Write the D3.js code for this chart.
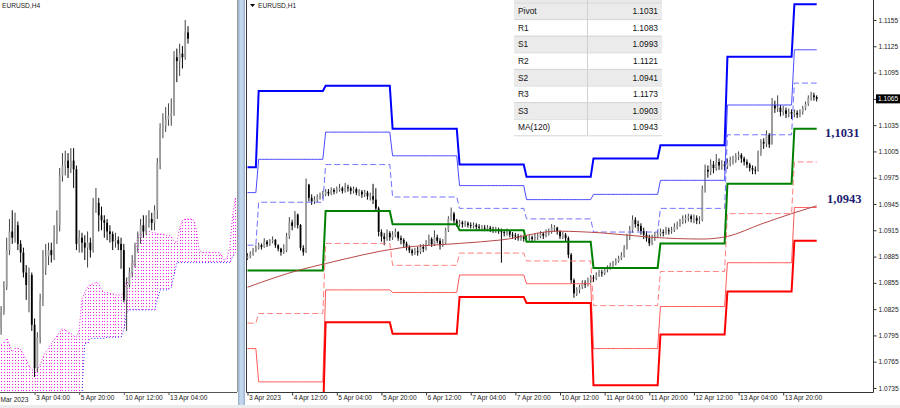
<!DOCTYPE html>
<html>
<head>
<meta charset="utf-8">
<title>EURUSD H4 / H1</title>
<script src="https://cdn.jsdelivr.net/npm/d3@7/dist/d3.min.js"></script>
<style>
  body { margin: 0; background: #fff; }
  svg  { display: block; font-family: "Liberation Sans", Arial, sans-serif; }
</style>
</head>
<body>
<svg id="chart" width="900" height="408"></svg>
<script>

// candle and level values are pips above 1.0700
var BASE = 1.07;
function px(v) { return BASE + v / 10000; }

// ---------- H1 chart (right) ----------
var h1FirstOpen = 183;
var h1Close = [185,188,192,195,198,196,202,199,203,204, 198,194,190,192,208,224,220,233,221,195,
  190,267,252,248,250,253,254,256,259,257, 261,259,261,263,260,264,263,260,262,258,
  259,256,258,254,254,250,240,213,208,205, 212,207,210,213,206,204,200,196,192,189,
  191,190,196,194,201,205,199,207,203,198, 200,215,228,234,226,222,224,222,223,221,
  220,221,219,218,218,217,218,216,215,216, 214,213,212,214,210,209,208,206,207,205,
  206,207,205,208,208,211,209,213,213,218, 218,214,208,210,206,187,158,143,147,150,
  155,153,158,161,160,164,167,166,170,172, 175,177,180,183,186,195,208,215,227,222,
  220,214,210,206,200,206,208,211,213,212, 215,214,215,219,221,224,227,229,231,228,
  229,226,227,262,284,282,290,286,293,289, 290,288,292,295,295,299,301,297,293,290,
  286,284,283,303,316,314,324,313,358,354, 355,350,352,348,350,348,349,347,350,354,
  359,366,369,367,365];
var h1High = [189,191,195,198,201,200,206,204,205,208, 205,199,195,199,212,230,227,237,234,222,
  198,274,268,256,254,256,258,260,262,262, 264,263,265,268,265,269,267,265,265,264,
  262,261,261,260,258,268,263,242,216,212, 216,214,214,217,214,209,206,202,198,194,
  195,196,199,199,204,210,207,215,210,206, 205,218,231,241,236,228,227,226,226,225,
  224,224,223,222,221,221,221,220,219,219, 218,217,216,217,215,213,212,211,210,209,
  209,210,209,211,212,214,213,216,217,222, 221,219,215,213,212,208,189,160,150,153,
  158,158,161,164,164,167,170,170,173,175, 178,180,183,186,190,198,211,220,232,230,
  226,223,218,214,210,210,213,215,217,216, 219,218,219,223,225,228,232,233,234,233,
  233,232,231,266,290,289,296,294,302,297, 295,294,297,299,300,303,305,303,299,296,
  292,289,288,306,319,320,329,326,366,363, 369,358,357,355,354,353,353,352,353,357,
  362,369,373,372,369];
var h1Low = [181,183,186,190,193,193,195,196,197,200, 195,191,186,188,190,205,215,218,217,192,
  186,189,248,244,245,247,250,251,254,254, 255,256,257,259,257,258,259,256,257,255,
  254,252,253,250,249,245,236,208,202,198, 203,203,204,207,203,199,196,192,189,186,
  187,186,188,190,192,198,196,197,200,193, 196,199,213,226,223,219,219,218,219,218,
  217,217,216,215,214,214,214,213,212,212, 211,178,208,209,207,205,204,203,203,202,
  202,203,201,203,204,206,205,207,209,211, 213,210,205,205,202,183,154,138,140,143,
  148,149,151,155,156,158,162,162,164,167, 170,172,175,178,181,184,193,204,212,218,
  214,210,205,202,197,198,203,206,208,208, 210,210,211,213,216,219,222,223,225,224,
  223,222,222,225,258,275,278,280,283,284, 284,283,285,288,290,292,295,292,289,286,
  282,279,279,282,300,308,310,309,313,349, 350,345,346,343,344,342,344,343,344,347,
  352,357,363,363,362];

var timeTicksH1  = [0,16,32,48,64,80,96,112,128,144,160,176,192];
var timeLabelsH1 = ["3 Apr 2023","4 Apr 12:00","5 Apr 04:00","5 Apr 20:00","6 Apr 12:00",
  "7 Apr 04:00","7 Apr 20:00","10 Apr 12:00","11 Apr 04:00","11 Apr 20:00",
  "12 Apr 12:00","13 Apr 04:00","13 Apr 20:00"];
var priceTicks = [1.0735,1.0765,1.0795,1.0825,1.0855,1.0885,1.0915,1.0945,
  1.0975,1.1005,1.1035,1.1065,1.1095,1.1125,1.1155];

// daily pivot levels (first H1 bar of each day, then one value per day)
var dayStart = [0,4,28,52,76,100,124,148,172,196];
var levR3    = [287,374,380,331,290,276,297,312,413,473];
var levR2    = [258,296,327,300,266,250,256,272,358,421];
var levR1    = [198,247,290,253,240,228,213,240,324,383];
var levP     = [169,169,237,222,215,202,172,200,268,331];
var levS1    = [109,120,200,175,189,180,129,168,234,293];
var levS2    = [ 80, 42,147,144,164,154, 80,128,178,241];
var levS3    = [ 20, -7,110, 97,139,132, 38, 96,145,203];

// MA(120) read at a few bars
var maIdx = [0,19,28,55,76,91,111,127,145,163,172,184,195,204];
var maVal = [150,170,177,195,200,204,214,212,207,205,208,222,234,243];

var tableNames = ["Pivot","R1","S1","R2","S2","R3","S3","MA(120)"];

// ---------- H4 chart (left) ----------
var h4FirstOpen = 128;
var h4Close = [140,160,190,205,200,210,195,188,172,162, 170,130,95,120,150,175,185,190,186,200,
  210,250,258,262,256,262,255,195,200,196, 192,196,190,225,228,218,214,212,205,203,
  197,198,195,190,150,162,172,180,192,200, 210,205,212,215,212,222,260,288,290,295,
  298,300,345,342,348,345,365,360];
var h4High = [145,165,200,215,222,220,213,198,192,178, 176,172,135,124,155,190,195,196,196,210,
  222,256,268,270,268,272,272,258,206,204, 202,205,200,232,240,232,225,218,215,210,
  205,204,201,200,195,168,176,186,196,205, 215,218,218,222,220,226,264,292,300,305,
  308,312,350,352,356,354,375,370];
var h4Low = [122,138,158,186,195,196,190,180,168,150, 140,125,88,92,115,145,170,178,180,182,
  195,205,245,250,248,252,240,190,188,188, 182,176,184,188,220,205,206,200,198,196,
  190,192,190,175,148,125,160,168,176,188, 195,200,202,208,206,206,215,255,280,285,
  290,290,298,325,330,336,343,356];

// Ichimoku cloud edges (bars 0..84, last 17 projected ahead)
var spanA = [114,116,119,114,108,111,111,110,106,102, 97,94,92,94,98,104,108,111,115,118,
  121,124,127,126,124,123,121,120,126,151, 156,160,162,163,164,163,158,156,156,155,
  155,154,154,154,156,166,169,173,186,201, 204,205,205,205,204,204,203,203,203,202,
  202,201,197,196,208,214,215,215,215,214, 206,190,188,188,188,188,188,188,188,186,
  182,184,192,218,232];
var spanB = [70,70,70,70,70,70,70,70,70,70, 70,70,70,70,70,70,70,70,70,70,
  70,70,70,70,70,70,70,70,70,77, 115,115,119,119,119,119,119,119,120,120,
  120,120,120,120,126,140,142,142,142,142, 142,142,142,142,142,142,150,158,158,158,
  158,160,170,180,180,180,180,180,180,180, 180,180,180,180,180,180,180,180,180,180,
  180,180,180,185,188];

var timeTicksH4  = [12,28,44,60];
var timeLabelsH4 = ["3 Apr 04:00","5 Apr 20:00","10 Apr 12:00","13 Apr 04:00"];
var firstLabelH4 = "Mar 2023";


var svg = d3.select("#chart");
var defs = svg.append("defs");
defs.append("clipPath").attr("id", "clipL")
  .append("rect").attr("x", 0).attr("y", 0).attr("width", 237).attr("height", 392);
defs.append("clipPath").attr("id", "clipR")
  .append("rect").attr("x", 247).attr("y", 0).attr("width", 626).attr("height", 392);

function drawCandles(g, x, y, firstOpen, close, high, low) {
  close.forEach(function (c, i) {
    var o = i ? close[i - 1] : firstOpen;
    var up = c >= o;
    var cx = x(i);
    g.append("line")
      .attr("x1", cx).attr("x2", cx)
      .attr("y1", y(px(high[i]))).attr("y2", y(px(low[i])))
      .attr("stroke", up ? "#444" : "#000").attr("stroke-width", 1);
    var yt = y(px(Math.max(o, c))), yb = y(px(Math.min(o, c)));
    g.append("rect")
      .attr("x", cx - 0.9).attr("width", 1.8)
      .attr("y", yt).attr("height", Math.max(1, yb - yt))
      .attr("fill", up ? "#9c9c9c" : "#000");
  });
}

// ================= left panel =================
var xL = d3.scaleLinear().domain([0, 67]).range([1.1, 188.0]);
var yL = d3.scaleLinear().domain([1.0788, 1.1075]).range([377, 20]);

var gL = svg.append("g").attr("clip-path", "url(#clipL)");

// cloud: dotted vertical strokes per bar
spanA.forEach(function (a, i) {
  var x = Math.round(xL(i)) + 0.5;
  var y1 = yL(px(a)), y2 = Math.min(395, yL(px(spanB[i])));
  gL.append("line")
    .attr("x1", x).attr("x2", x).attr("y1", y1).attr("y2", y2)
    .attr("stroke", "#f020f0").attr("stroke-width", 1)
    .attr("stroke-dasharray", "1,2")
    .attr("stroke-dashoffset", y1 % 3);
});
var spanLine = d3.line().x(function (d, i) { return xL(i); }).y(function (d) { return yL(px(d)); });
gL.append("path").attr("d", spanLine(spanA)).attr("fill", "none")
  .attr("stroke", "#f020f0").attr("stroke-width", 1).attr("stroke-dasharray", "1,2");
gL.append("path").attr("d", spanLine(spanB)).attr("fill", "none")
  .attr("stroke", "#3a3aff").attr("stroke-width", 1).attr("stroke-dasharray", "1,2");

drawCandles(gL, xL, yL, h4FirstOpen, h4Close, h4High, h4Low);

// left frame + time axis
svg.append("line").attr("x1", 0).attr("x2", 237).attr("y1", 392.5).attr("y2", 392.5)
  .attr("stroke", "#555");
svg.append("line").attr("x1", 237.5).attr("x2", 237.5).attr("y1", 0).attr("y2", 392)
  .attr("stroke", "#999");
var axL = svg.append("g").attr("transform", "translate(0,392)")
  .call(d3.axisBottom(xL).tickValues(timeTicksH4).tickSize(3).tickPadding(1)
    .tickFormat(function (d, i) { return timeLabelsH4[i]; }));
axL.select(".domain").remove();
axL.selectAll("text").attr("text-anchor", "start").attr("dx", 1).attr("dy", "0.6em")
  .attr("font-size", 6.6).attr("fill", "#222");
axL.selectAll("line").attr("stroke", "#555");
svg.append("text").attr("x", 0.5).attr("y", 402).attr("font-size", 6.6).attr("fill", "#222")
  .text(firstLabelH4);

svg.append("text").attr("x", 2).attr("y", 8).attr("font-size", 6.6).attr("fill", "#222")
  .text("EURUSD,H4");

// separator between the two windows
svg.append("rect").attr("x", 238).attr("y", 0).attr("width", 7).attr("height", 408)
  .attr("fill", "#c3d7ec");
svg.append("rect").attr("x", 238).attr("y", 0).attr("width", 1.5).attr("height", 408)
  .attr("fill", "#9fb7d1");
svg.append("rect").attr("x", 243.5).attr("y", 0).attr("width", 1.5).attr("height", 408)
  .attr("fill", "#9fb7d1");

// ================= right panel =================
var xR = d3.scaleLinear().domain([0, 224]).range([247.5, 872.5]);
var yR = d3.scaleLinear().domain([1.0735, 1.1155]).range([388, 20]);

var gR = svg.append("g").attr("clip-path", "url(#clipR)");

drawCandles(gR, xR, yR, h1FirstOpen, h1Close, h1High, h1Low);

function perBar(levels) {
  return h1Close.map(function (c, i) {
    return [i, levels[d3.bisectRight(dayStart, i) - 1]];
  });
}
var lvLine = d3.line().x(function (d) { return xR(d[0]); }).y(function (d) { return yR(px(d[1])); });

var levelStyles = [
  { data: levS2, color: "#ff5a5a", width: 1,   dash: null },
  { data: levS1, color: "#ff7d7d", width: 1,   dash: "6,3" },
  { data: levS3, color: "#ff0000", width: 2,   dash: null },
  { data: levR1, color: "#6f6fff", width: 1,   dash: "6,3" },
  { data: levR2, color: "#4b4bff", width: 1,   dash: null },
  { data: levR3, color: "#0000ff", width: 2,   dash: null },
  { data: levP,  color: "#008000", width: 2,   dash: null }
];
levelStyles.forEach(function (s) {
  gR.append("path").attr("d", lvLine(perBar(s.data))).attr("fill", "none")
    .attr("stroke", s.color).attr("stroke-width", s.width)
    .attr("stroke-dasharray", s.dash);
});

var maLine = d3.line().curve(d3.curveMonotoneX)
  .x(function (d) { return xR(d[0]); }).y(function (d) { return yR(px(d[1])); });
gR.append("path").attr("d", maLine(maIdx.map(function (d, i) { return [d, maVal[i]]; })))
  .attr("fill", "none").attr("stroke", "#b84848").attr("stroke-width", 1);

// right frame
svg.append("path").attr("d", "M246.5,0V392.5H873.5V0").attr("fill", "none").attr("stroke", "#333");

// price axis
var axP = svg.append("g").attr("transform", "translate(873.5,0)")
  .call(d3.axisRight(yR).tickValues(priceTicks).tickSize(3).tickPadding(2)
    .tickFormat(d3.format(".4f")));
axP.select(".domain").remove();
axP.selectAll("text").attr("font-size", 6.6).attr("fill", "#222");
axP.selectAll("line").attr("stroke", "#333");

// current price marker
var last = px(h1Close[h1Close.length - 1]);
svg.append("rect").attr("x", 876).attr("y", yR(last) - 4.5).attr("width", 24).attr("height", 9)
  .attr("fill", "#000");
svg.append("text").attr("x", 878).attr("y", yR(last) + 2.3).attr("font-size", 6.6)
  .attr("fill", "#fff").text(last.toFixed(4));

// time axis
var axT = svg.append("g").attr("transform", "translate(0,392.5)")
  .call(d3.axisBottom(xR).tickValues(timeTicksH1).tickSize(3).tickPadding(1)
    .tickFormat(function (d, i) { return timeLabelsH1[i]; }));
axT.select(".domain").remove();
axT.selectAll("text").attr("text-anchor", "start").attr("dx", 1).attr("dy", "0.6em")
  .attr("font-size", 6.6).attr("fill", "#222");
axT.selectAll("line").attr("stroke", "#333");

// title
svg.append("path").attr("d", "M250,4h5l-2.5,3z").attr("fill", "#000");
svg.append("text").attr("x", 258).attr("y", 8).attr("font-size", 6.6).attr("fill", "#222")
  .text("EURUSD,H1");

// big value labels for pivot and MA
var nLast = dayStart.length - 1;
function comma(v) { return px(v).toFixed(4).replace(".", ","); }
svg.append("text").attr("x", 825).attr("y", yR(px(levP[nLast])) + 8)
  .attr("font-family", "'Liberation Serif', 'DejaVu Serif', serif").attr("font-weight", "bold")
  .attr("font-size", 12.5).attr("fill", "#1c1c72").text(comma(levP[nLast]));
svg.append("text").attr("x", 827).attr("y", yR(px(maVal[maVal.length - 1])) - 3)
  .attr("font-family", "'Liberation Serif', 'DejaVu Serif', serif").attr("font-weight", "bold")
  .attr("font-size", 12.5).attr("fill", "#1c1c72").text(comma(maVal[maVal.length - 1]));

// pivot table
var tableVals = [levP, levR1, levS1, levR2, levS2, levR3, levS3].map(function (a) { return a[nLast]; });
tableVals.push(maVal[maVal.length - 1]);
var tx = 514, tw = 148, rowH = 16.6, ty = 2.5;
var tbl = svg.append("g");
tbl.append("rect").attr("x", tx).attr("y", 0).attr("width", tw).attr("height", ty)
  .attr("fill", "#e9e9e9");
tableNames.forEach(function (n, i) {
  var y = ty + i * rowH;
  tbl.append("rect").attr("x", tx).attr("y", y).attr("width", tw).attr("height", rowH)
    .attr("fill", i % 2 === 0 ? "#ebebeb" : "#ffffff");
  tbl.append("line").attr("x1", tx).attr("x2", tx + tw).attr("y1", y + 0.5).attr("y2", y + 0.5)
    .attr("stroke", "#d6d6d6");
  tbl.append("text").attr("x", tx + 4).attr("y", y + 11.6).attr("font-size", 8.4)
    .attr("fill", "#111").text(n);
  tbl.append("text").attr("x", tx + tw - 4).attr("y", y + 11.6).attr("font-size", 8.4)
    .attr("text-anchor", "end").attr("fill", "#111").text(px(tableVals[i]).toFixed(4));
});
tbl.append("line").attr("x1", 587.5).attr("x2", 587.5).attr("y1", 0)
  .attr("y2", ty + tableNames.length * rowH).attr("stroke", "#d0d0d0");
tbl.append("line").attr("x1", tx).attr("x2", tx + tw)
  .attr("y1", ty + tableNames.length * rowH + 0.5).attr("y2", ty + tableNames.length * rowH + 0.5)
  .attr("stroke", "#d6d6d6");

// bottom strip of the terminal window
svg.append("rect").attr("x", 0).attr("y", 405).attr("width", 900).attr("height", 3)
  .attr("fill", "#ececec");
</script>
</body>
</html>
